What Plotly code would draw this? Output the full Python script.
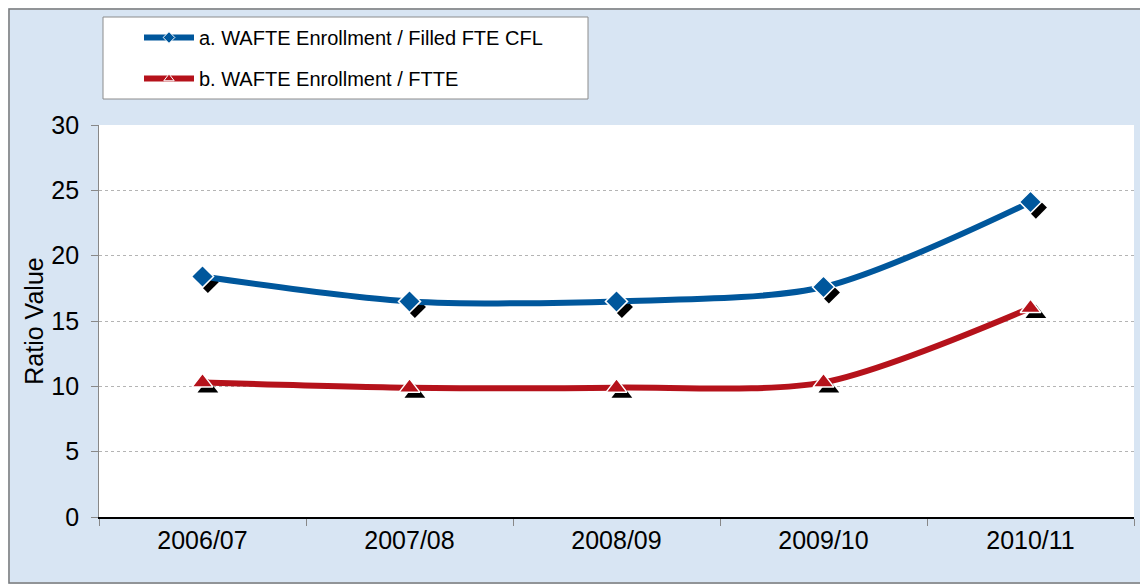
import plotly.graph_objects as go

years = ['2006/07', '2007/08', '2008/09', '2009/10', '2010/11']
ratio_cfl = [18.4, 16.5, 16.5, 17.6, 24.1]
ratio_ftte = [10.3, 9.9, 9.9, 10.3, 16.0]
names = ['a. WAFTE Enrollment / Filled FTE CFL', 'b. WAFTE Enrollment / FTTE']

blue = '#00579c'
red = '#b5121b'

fig = go.Figure()

# invisible trace so the base axes carry the data
fig.add_trace(go.Scatter(x=years, y=ratio_cfl, mode='none', showlegend=False, hoverinfo='skip'))

# drop shadows of the markers, on overlay axes shifted a few pixels down/right
for vals, sym, size in [(ratio_cfl, 'diamond', 17), (ratio_ftte, 'triangle-up', 18)]:
    fig.add_trace(go.Scatter(x=years, y=vals, mode='markers', xaxis='x2', yaxis='y2',
                             marker=dict(symbol=sym, size=size, color='black'),
                             showlegend=False, hoverinfo='skip'))

for vals, name, col, sym, size, grp in [(ratio_cfl, names[0], blue, 'diamond', 17, 'a'),
                                        (ratio_ftte, names[1], red, 'triangle-up', 18, 'b')]:
    fig.add_trace(go.Scatter(x=years, y=vals, mode='lines+markers', xaxis='x3', yaxis='y3',
                             name=name, legendgroup=grp, showlegend=False,
                             line=dict(color=col, width=6, shape='spline', smoothing=0.8),
                             marker=dict(symbol=sym, size=size, color=col,
                                         line=dict(color='white', width=1.5))))
    # legend entry with the small marker used in the reference legend
    fig.add_trace(go.Scatter(x=[None], y=[None], mode='lines+markers', xaxis='x3', yaxis='y3',
                             name=name, legendgroup=grp,
                             line=dict(color=col, width=6),
                             marker=dict(symbol=sym, size=9, color=col,
                                         line=dict(color='white', width=1))))

font = 'Liberation Sans, Arial, sans-serif'
# page body adds 8px, so the figure sits 8px right/down of the screenshot
W, H = 1148, 584
L, R, T, B = 91, 22, 117, 75
pw, ph = W - L - R, H - T - B


def px(x):
    return (x - 8 - L) / pw


def py(y):
    return (H - B - (y - 8)) / ph


fig.update_layout(
    width=W, height=H,
    margin=dict(l=L, r=R, t=T, b=B, autoexpand=False),
    paper_bgcolor='#d8e5f3',
    plot_bgcolor='white',
    font=dict(family=font, size=25, color='black'),
    showlegend=True,
    legend=dict(x=px(139), y=py(18), xanchor='left', yanchor='top',
                bgcolor='rgba(0,0,0,0)', borderwidth=0,
                font=dict(size=20), itemwidth=50, tracegroupgap=12),
    xaxis=dict(type='category', categoryarray=years, range=[-0.5, 4.5], showgrid=False,
               showline=True, linecolor='black', linewidth=1.5,
               ticks='outside', tickson='boundaries', ticklen=7, tickcolor='#888888',
               tickfont=dict(size=25)),
    yaxis=dict(range=[0, 30], dtick=5, showgrid=True, gridcolor='#b4b4b4',
               griddash='dot', gridwidth=1, showline=True, linecolor='#888888',
               ticks='outside', ticklen=7, tickcolor='#888888', zeroline=False,
               automargin=False, ticksuffix=' ',
               title=dict(text='Ratio Value', font=dict(size=25), standoff=0),
               tickfont=dict(size=25)),
    xaxis2=dict(type='category', overlaying='x', range=[-0.526, 4.474], visible=False),
    yaxis2=dict(overlaying='y', range=[0.42, 30.42], visible=False),
    xaxis3=dict(type='category', overlaying='x', range=[-0.5, 4.5], visible=False),
    yaxis3=dict(overlaying='y', range=[0, 30], visible=False),
    shapes=[dict(type='rect', xref='paper', yref='paper', layer='below',
                 x0=px(103), x1=px(588), y0=py(99), y1=py(17),
                 fillcolor='white', line=dict(color='#8c8c8c', width=1)),
            dict(type='rect', xref='paper', yref='paper',
                 x0=px(9), x1=px(W - 1), y0=py(H - 1), y1=py(9),
                 line=dict(color='#7a7a7a', width=1.5))],
)

fig.write_html('out.html')
